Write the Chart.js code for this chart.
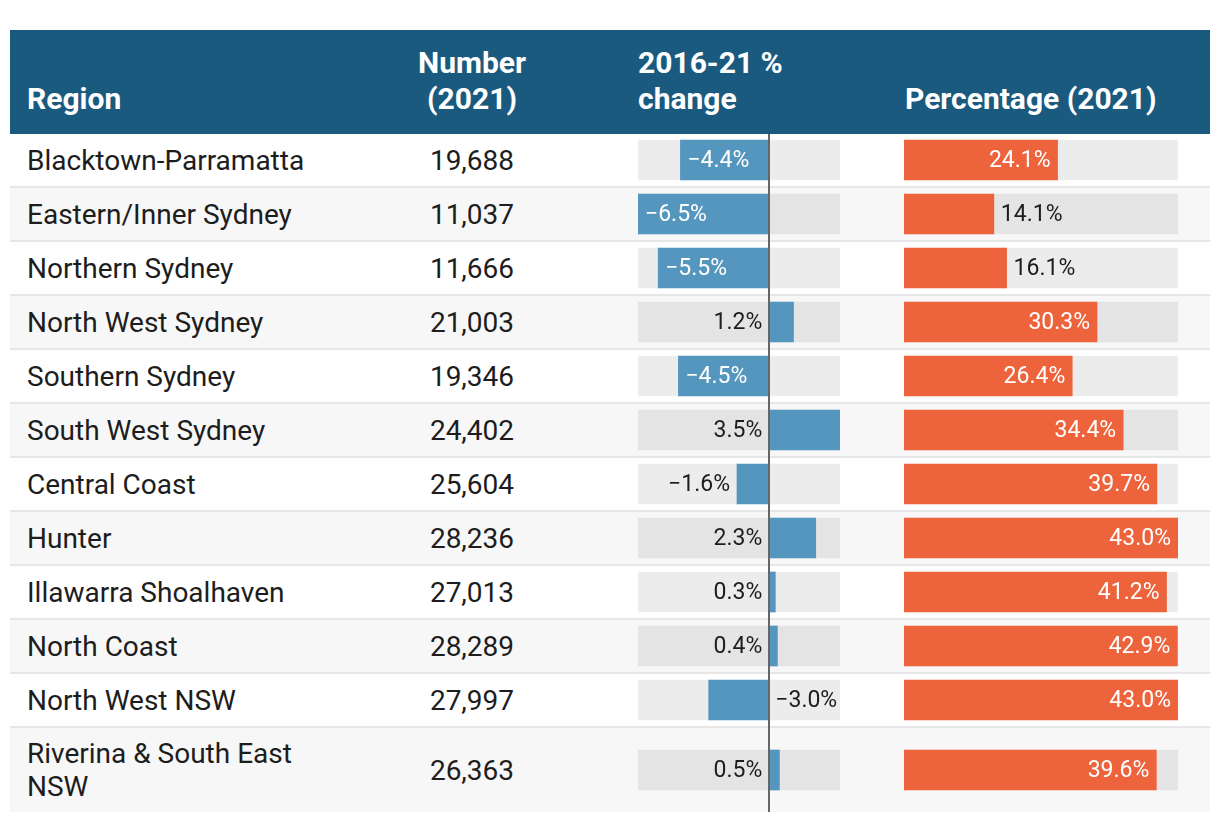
<!DOCTYPE html>
<html>
<head>
<meta charset="utf-8">
<script src="https://cdn.jsdelivr.net/npm/chart.js@4.4.1/dist/chart.umd.min.js"></script>
<style>
  body { margin: 0; background: #fff; font-family: Roboto, sans-serif; color: #1d1d1d; }
  #table { position: absolute; left: 10px; top: 30px; width: 1200px; }
  .head { position: relative; height: 104px; background: #1b5a7f; color: #fff; font-weight: 700; font-size: 30px; line-height: 36px; }
  .head div { position: absolute; bottom: 17px; }
  .row { position: relative; height: 54px; box-sizing: border-box; border-bottom: 2px solid #e6e6e6; font-size: 28px; }
  .row.alt { background: #f7f7f7; }
  .row.last { height: 84px; border-bottom: 0; }
  .cell { position: absolute; top: 0; bottom: 0; display: flex; align-items: center; line-height: 33px; }
  .region { left: 17px; width: 320px; }
  .num { left: 380px; width: 164px; justify-content: center; }
  canvas { position: absolute; top: 0; }
</style>
</head>
<body>
<div id="table">
  <div class="head">
    <div style="left:17px">Region</div>
    <div style="left:380px;width:164px;text-align:center">Number<br>(2021)</div>
    <div style="left:628px">2016-21 %<br>change</div>
    <div style="left:895px">Percentage (2021)</div>
  </div>
  <div id="body"></div>
</div>
<script>
const regions = ['Blacktown-Parramatta', 'Eastern/Inner Sydney', 'Northern Sydney', 'North West Sydney',
  'Southern Sydney', 'South West Sydney', 'Central Coast', 'Hunter', 'Illawarra Shoalhaven',
  'North Coast', 'North West NSW', 'Riverina & South East NSW'];
const numbers = [19688, 11037, 11666, 21003, 19346, 24402, 25604, 28236, 27013, 28289, 27997, 26363];
const changes = [-4.4, -6.5, -5.5, 1.2, -4.5, 3.5, -1.6, 2.3, 0.3, 0.4, -3.0, 0.5];
const shares = [24.1, 14.1, 16.1, 30.3, 26.4, 34.4, 39.7, 43.0, 41.2, 42.9, 43.0, 39.6];

const changeMin = Math.min(...changes);
const changeMax = Math.max(...changes);
const shareMax = Math.max(...shares);

function fmtPct(v) {
  return v.toFixed(1).replace('-', '\u2212') + '%';
}

// draws the zero line across the full row height
const zeroLine = {
  id: 'zeroLine',
  afterDatasetsDraw(chart, args, opts) {
    if (!opts.show) return;
    const x = Math.round(chart.scales.x.getPixelForValue(0));
    const ctx = chart.ctx;
    ctx.save();
    ctx.fillStyle = '#666';
    ctx.fillRect(x - 1, 0, 2, chart.height);
    ctx.restore();
  }
};

// value labels, inside or beside the bar
const valueLabels = {
  id: 'valueLabels',
  afterDatasetsDraw(chart, args, opts) {
    const bar = chart.getDatasetMeta(0).data[0];
    const v = chart.data.datasets[0].data[0];
    const text = fmtPct(v);
    const ctx = chart.ctx;
    ctx.save();
    ctx.font = '23px Roboto';
    ctx.textBaseline = 'middle';
    const w = ctx.measureText(text).width;
    const left = Math.min(bar.x, bar.base);
    const right = Math.max(bar.x, bar.base);
    let x, align, color = '#1d1d1d';
    if (opts.mode === 'share') {
      if (right - left >= 2 * w) { x = right - 7; align = 'right'; color = '#fff'; }
      else { x = right + 7; align = 'left'; }
    } else {
      const zero = chart.scales.x.getPixelForValue(0);
      if (v >= 0) { x = zero - 7; align = 'right'; }
      else if (right - left >= w + 14) { x = left + 7; align = 'left'; color = '#fff'; }
      else if (left - chart.chartArea.left >= w + 14) { x = left - 7; align = 'right'; }
      else { x = zero + 6; align = 'left'; }
    }
    ctx.fillStyle = color;
    ctx.textAlign = align;
    ctx.fillText(text, x, bar.y + 1);
    ctx.restore();
  }
};

function barCell(row, left, width, height, padBottom, value, min, max, color, mode) {
  const canvas = document.createElement('canvas');
  canvas.width = width;
  canvas.height = height;
  canvas.style.left = left + 'px';
  canvas.style.width = width + 'px';
  canvas.style.height = height + 'px';
  row.appendChild(canvas);

  new Chart(canvas, {
    type: 'bar',
    data: {
      labels: [''],
      datasets: [
        { data: [value], backgroundColor: color, barThickness: 40, grouped: false },
        { data: [[min, max]], backgroundColor: 'rgba(0,0,0,0.075)', barThickness: 40, grouped: false }
      ]
    },
    options: {
      indexAxis: 'y',
      responsive: false,
      animation: false,
      devicePixelRatio: 1,
      layout: { padding: { top: 0, left: 0, right: 0, bottom: padBottom } },
      scales: {
        x: { type: 'linear', display: false, min: min, max: max },
        y: { display: false }
      },
      plugins: {
        legend: { display: false },
        tooltip: { enabled: false },
        zeroLine: { show: mode === 'change' },
        valueLabels: { mode: mode }
      }
    },
    plugins: [zeroLine, valueLabels]
  });
}

function build() {
  const body = document.getElementById('body');
  regions.forEach((name, i) => {
    const last = i === regions.length - 1;
    const row = document.createElement('div');
    row.className = 'row' + (i % 2 ? ' alt' : '') + (last ? ' last' : '');
    row.innerHTML = '<div class="cell region"></div><div class="cell num"></div>';
    row.children[0].textContent = name;
    row.children[1].textContent = numbers[i].toLocaleString('en-US');
    body.appendChild(row);

    const h = last ? 84 : 54;
    const pad = last ? 0 : 2;
    barCell(row, 628, 202, h, pad, changes[i], changeMin, changeMax, '#5596be', 'change');
    barCell(row, 894, 274, h, pad, shares[i], 0, shareMax, '#ec633c', 'share');
  });
}

document.fonts.load('23px Roboto').then(build, build);
</script>
</body>
</html>
